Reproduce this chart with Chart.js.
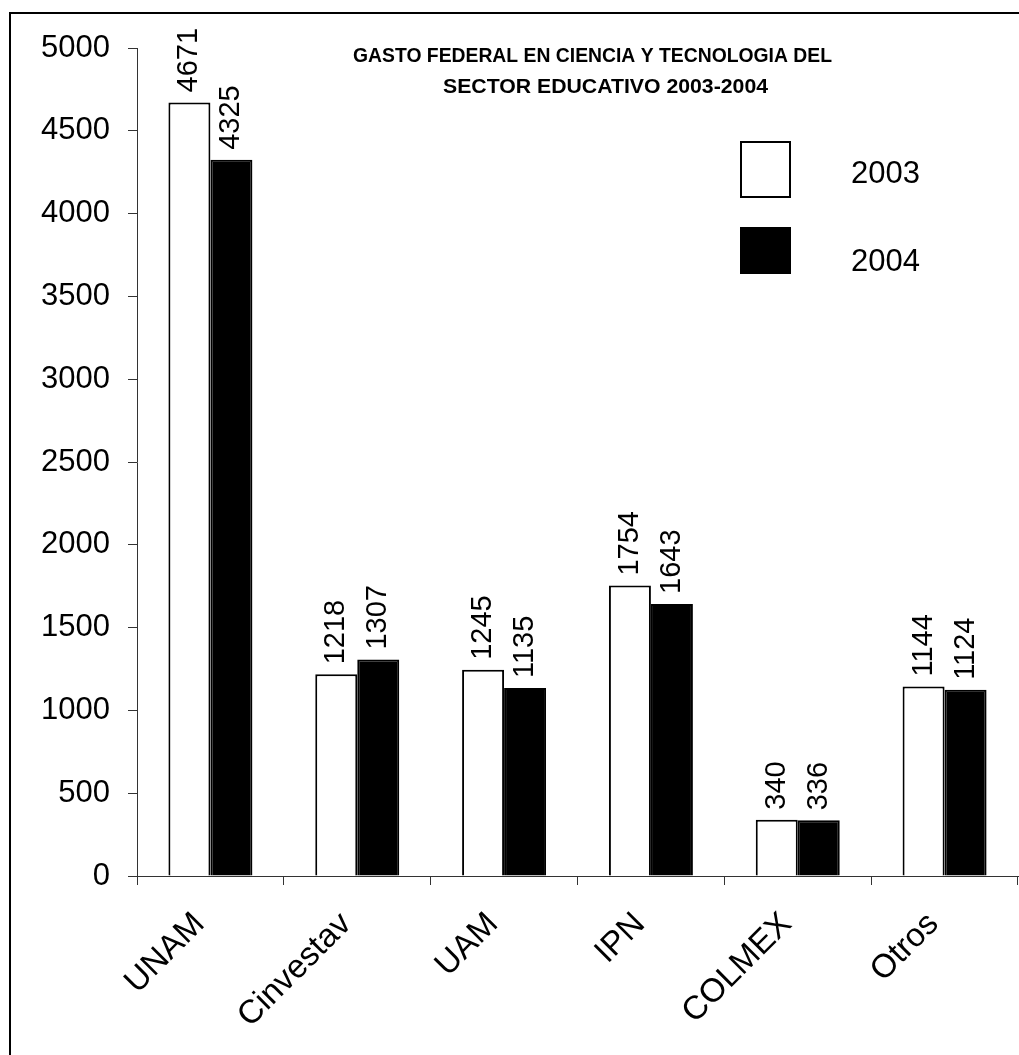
<!DOCTYPE html>
<html>
<head>
<meta charset="utf-8">
<script src="https://cdn.jsdelivr.net/npm/chart.js@4"></script>
<style>
  body { margin: 0; background: #fff; }
  #frame { position: absolute; left: 9px; top: 12px; width: 1100px; height: 1100px; border: 2px solid #000; }
  #chart { position: absolute; left: 0; top: 0; }
</style>
</head>
<body>
<div id="frame"></div>
<canvas id="chart" width="1019" height="1055"></canvas>
<script>
var categories = ['UNAM', 'Cinvestav', 'UAM', 'IPN', 'COLMEX', 'Otros'];
var gasto2003 = [4671, 1218, 1245, 1754, 340, 1144];
var gasto2004 = [4325, 1307, 1135, 1643, 336, 1124];
var seriesLabels = ['2003', '2004'];
var titleLines = ['GASTO FEDERAL EN CIENCIA Y TECNOLOGIA DEL', 'SECTOR EDUCATIVO 2003-2004'];
var yMin = 0, yMax = 5000, yStep = 500;

var FONT = '"Liberation Sans", Arial, sans-serif';

// value labels, rotated, above each bar
var barLabels = {
     id: 'barLabels',
     afterDatasetsDraw: function (chart) {
          var ctx = chart.ctx;
          ctx.save();
          ctx.fillStyle = '#000';
          ctx.font = '29px ' + FONT;
          ctx.textAlign = 'left';
          ctx.textBaseline = 'middle';
          chart.data.datasets.forEach(function (ds, i) {
               chart.getDatasetMeta(i).data.forEach(function (bar, j) {
                    ctx.save();
                    ctx.translate(bar.x, bar.y - 10);
                    ctx.rotate(-Math.PI / 2);
                    ctx.fillText(String(ds.data[j]), 0, 0);
                    ctx.restore();
               });
          });
          ctx.restore();
     }
};

// title and legend sit inside the plot area
var overlay = {
     id: 'overlay',
     afterDraw: function (chart) {
          var ctx = chart.ctx;
          var a = chart.chartArea;
          ctx.save();
          ctx.fillStyle = '#000';
          ctx.font = 'bold 21px ' + FONT;
          ctx.textBaseline = 'middle';
          ctx.textAlign = 'left';
          var tl = [[a.left + 216, 56, 479], [a.left + 306, 87, 325]];
          titleLines.forEach(function (t, i) {
               var w = ctx.measureText(t).width;
               ctx.save();
               ctx.translate(tl[i][0], tl[i][1]);
               ctx.scale(tl[i][2] / w, 1);
               ctx.fillText(t, 0, 0);
               ctx.restore();
          });

          var boxes = [[a.left + 604, 142, 49, 55, 174], [a.left + 604, 228, 49, 45, 262]];
          ctx.font = '31px ' + FONT;
          chart.data.datasets.forEach(function (ds, i) {
               var b = boxes[i];
               ctx.fillStyle = ds.backgroundColor;
               ctx.fillRect(b[0], b[1], b[2], b[3]);
               ctx.lineWidth = 2;
               ctx.strokeStyle = ds.borderColor;
               ctx.strokeRect(b[0], b[1], b[2], b[3]);
               ctx.fillStyle = '#000';
               ctx.fillText(ds.label, a.left + 714, b[4]);
          });
          ctx.restore();
     }
};

var chart = new Chart(document.getElementById('chart'), {
     type: 'bar',
     data: {
          labels: categories,
          datasets: [{
               label: seriesLabels[0],
               data: gasto2003,
               backgroundColor: '#ffffff',
               borderColor: '#000000',
               borderWidth: 2,
               categoryPercentage: 0.572,
               barPercentage: 1
          }, {
               label: seriesLabels[1],
               data: gasto2004,
               backgroundColor: '#000000',
               borderColor: '#000000',
               borderWidth: 2,
               categoryPercentage: 0.572,
               barPercentage: 1
          }]
     },
     options: {
          responsive: false,
          animation: false,
          layout: { padding: { left: 0, right: 1, top: 48, bottom: 0 } },
          plugins: {
               legend: { display: false },
               title: { display: false },
               tooltip: { enabled: false }
          },
          scales: {
               x: {
                    grid: { display: true, drawOnChartArea: false, drawTicks: true, tickLength: 9, color: '#333', offset: true },
                    border: { color: '#333', width: 1 },
                    ticks: {
                         color: '#000',
                         font: { family: FONT, size: 33 },
                         minRotation: 45,
                         maxRotation: 45,
                         autoSkip: false,
                         padding: 20,
                         labelOffset: -11
                    },
                    afterFit: function (s) { s.height = 179; }
               },
               y: {
                    min: yMin,
                    max: yMax,
                    grid: { display: true, drawOnChartArea: false, drawTicks: true, tickLength: 9, color: '#333' },
                    border: { color: '#333', width: 1 },
                    ticks: {
                         stepSize: yStep,
                         color: '#000',
                         font: { family: FONT, size: 31 },
                         padding: 18,
                         callback: function (v) { return String(v); }
                    },
                    afterFit: function (s) { s.width = 137; }
               }
          }
     },
     plugins: [barLabels, overlay]
});
</script>
</body>
</html>
